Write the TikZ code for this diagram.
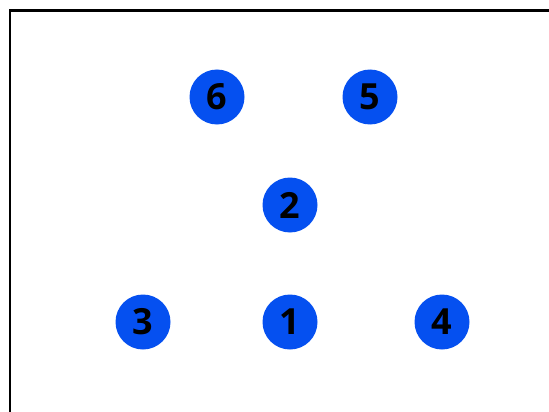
\documentclass[tikz,border=0pt]{standalone}
\usepackage{fontspec}
\setmainfont{Open Sans}
\definecolor{dotblue}{RGB}{5,80,240}
\begin{document}
\begin{tikzpicture}[x=1pt,y=-1pt,
  dot/.style={circle,fill=dotblue,minimum size=55pt,inner sep=0pt,font=\fontsize{36}{36}\selectfont\bfseries,text=black}]
\useasboundingbox (0,0) rectangle (549,412);
\draw[line width=2.5pt] (10,412) -- (10,10.5) -- (549,10.5);
\node[dot] (n6) at (217,97) {6};
\node[dot] (n5) at (370,97) {5};
\node[dot] (n2) at (290,205) {2};
\node[dot] (n3) at (143,322) {3};
\node[dot] (n1) at (290,322) {1};
\node[dot] (n4) at (442,322) {4};
\end{tikzpicture}
\end{document}
